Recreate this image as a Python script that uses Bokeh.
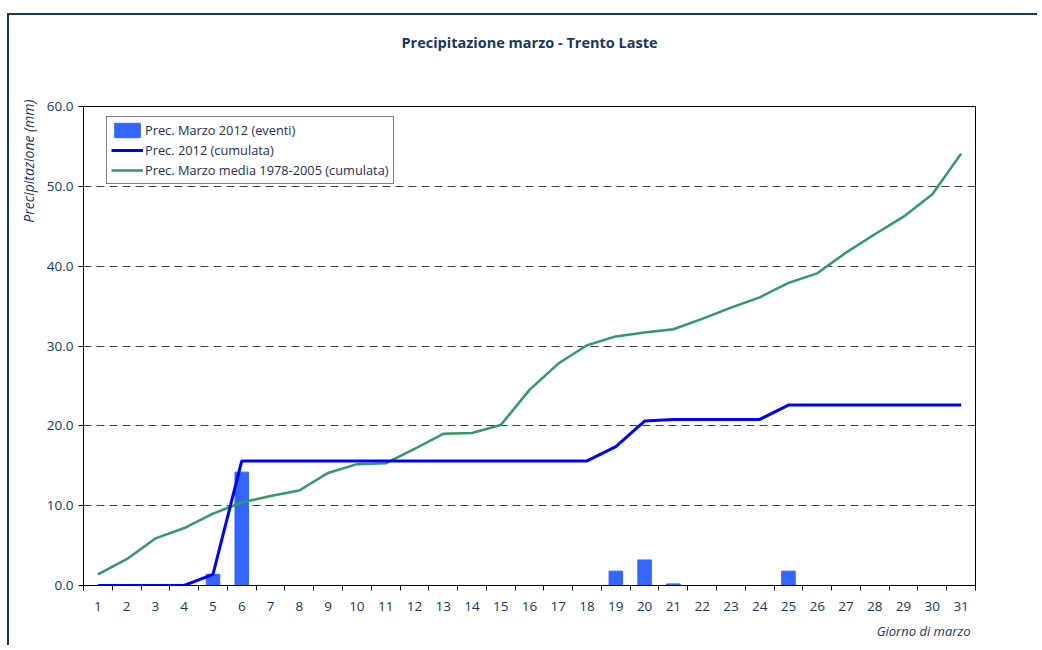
from bokeh.plotting import figure
from bokeh.models import (ColumnDataSource, LinearAxis, FixedTicker, Range1d, Legend,
                          LegendItem, Title, Grid, NumeralTickFormatter)
from bokeh.embed import file_html
from bokeh.resources import INLINE

days = list(range(1, 32))
day_labels = [str(d) for d in days]
y_ticks = [0, 10, 20, 30, 40, 50, 60]

events_2012 = [0, 0, 0, 0, 1.4, 14.2, 0, 0, 0, 0,
               0, 0, 0, 0, 0, 0, 0, 0, 1.8, 3.2,
               0.2, 0, 0, 0, 1.8, 0, 0, 0, 0, 0, 0]
cum_2012 = [0, 0, 0, 0, 1.4, 15.6, 15.6, 15.6, 15.6, 15.6,
            15.6, 15.6, 15.6, 15.6, 15.6, 15.6, 15.6, 15.6, 17.4, 20.6,
            20.8, 20.8, 20.8, 20.8, 22.6, 22.6, 22.6, 22.6, 22.6, 22.6, 22.6]
cum_mean = [1.4, 3.3, 5.9, 7.2, 9.0, 10.4, 11.2, 11.9, 14.1, 15.2,
            15.3, 17.1, 19.0, 19.1, 20.1, 24.5, 27.8, 30.1, 31.2, 31.7,
            32.1, 33.4, 34.8, 36.1, 37.9, 39.1, 41.7, 44.0, 46.2, 49.0, 54.1]

NAVY = "#17375E"
FONT = "Open Sans"

src = ColumnDataSource(dict(day=days, events=events_2012, cum=cum_2012, mean=cum_mean))

p = figure(width=1030, height=632, output_backend="svg", toolbar_location=None,
           x_range=Range1d(0.5, 31.5), y_range=Range1d(0, 60),
           x_axis_location=None, y_axis_location=None,
           min_border_left=74, min_border_right=64, min_border_top=91, min_border_bottom=62)
p.grid.visible = False
p.outline_line_color = "black"
p.outline_line_width = 1
p.styles = {"margin-left": "7px", "margin-top": "13px",
            "border-top": f"2px solid {NAVY}", "border-left": f"2px solid {NAVY}"}

# spacer between frame and title (nearest to frame)
p.add_layout(Title(text=" ", text_font_size="1px", standoff=52), "above")

p.title.text = "Precipitazione marzo - Trento Laste"
p.title.align = "center"
p.title.offset = 0
p.title.text_font = FONT
p.title.text_font_size = "14.5px"
p.title.text_font_style = "bold"
p.title.text_color = NAVY
p.title.standoff = 0

# y axis
yax = LinearAxis(ticker=FixedTicker(ticks=y_ticks, minor_ticks=[]),
                 formatter=NumeralTickFormatter(format="0.0"))
yax.major_tick_out = 5
yax.major_tick_in = 0
yax.minor_tick_out = 0
yax.axis_line_color = "black"
yax.major_label_text_font = FONT
yax.major_label_text_font_size = "13.5px"
yax.major_label_text_color = NAVY
yax.major_label_standoff = 5
p.add_layout(yax, "left")
p.add_layout(Title(text="Precipitazione (mm)", align="right", offset=-7, text_font=FONT,
                   text_font_size="14px", text_font_style="italic",
                   text_color=NAVY, standoff=12), "left")

# x axis: boundary ticks
xa = LinearAxis(ticker=FixedTicker(ticks=[d - 0.5 for d in days] + [31.5], minor_ticks=[]))
xa.major_tick_out = 5
xa.major_tick_in = 0
xa.minor_tick_out = 0
xa.axis_line_color = "black"
xa.major_label_text_alpha = 0
xa.major_label_text_font_size = "1px"
xa.major_label_standoff = 0
p.add_layout(xa, "below")

# x axis: day labels
xb = LinearAxis(ticker=FixedTicker(ticks=days, minor_ticks=[]),
                major_label_overrides={d: l for d, l in zip(days, day_labels)})
xb.major_tick_out = 0
xb.major_tick_in = 0
xb.minor_tick_out = 0
xb.axis_line_color = None
xb.major_label_text_font = FONT
xb.major_label_text_font_size = "13.5px"
xb.major_label_text_color = NAVY
xb.major_label_standoff = 11
p.add_layout(xb, "below")
p.add_layout(Title(text="Giorno di marzo", align="right", offset=5, text_font=FONT,
                   text_font_size="13px", text_font_style="italic",
                   text_color=NAVY, standoff=12), "below")

grid = Grid(dimension=1, ticker=FixedTicker(ticks=y_ticks[1:]))
grid.grid_line_color = "#404040"
grid.grid_line_dash = "8 5"
grid.grid_line_width = 1
p.add_layout(grid)

bars = p.vbar(x="day", top="events", width=0.47, source=src,
              fill_color="#3366FF", line_color="#3366FF")
gl = p.line("day", "mean", source=src, line_color="#339966", line_width=2.5)
bl = p.line("day", "cum", source=src, line_color="#0000FF", line_width=3)

legend = Legend(items=[
    LegendItem(label="Prec. Marzo 2012 (eventi)", renderers=[bars]),
    LegendItem(label="Prec. 2012 (cumulata)", renderers=[bl]),
    LegendItem(label="Prec. Marzo media 1978-2005 (cumulata)", renderers=[gl]),
], location=(23, 401))
legend.border_line_color = "black"
legend.border_line_width = 1
legend.background_fill_alpha = 1
legend.label_text_font = FONT
legend.label_text_font_size = "12.8px"
legend.label_text_color = "#1F3050"
legend.padding = 4
legend.spacing = 2
legend.margin = 0
legend.label_standoff = 2
legend.glyph_width = 32
legend.glyph_height = 18
legend.label_height = 18
p.add_layout(legend)

open("out.html", "w").write(file_html(p, INLINE))
